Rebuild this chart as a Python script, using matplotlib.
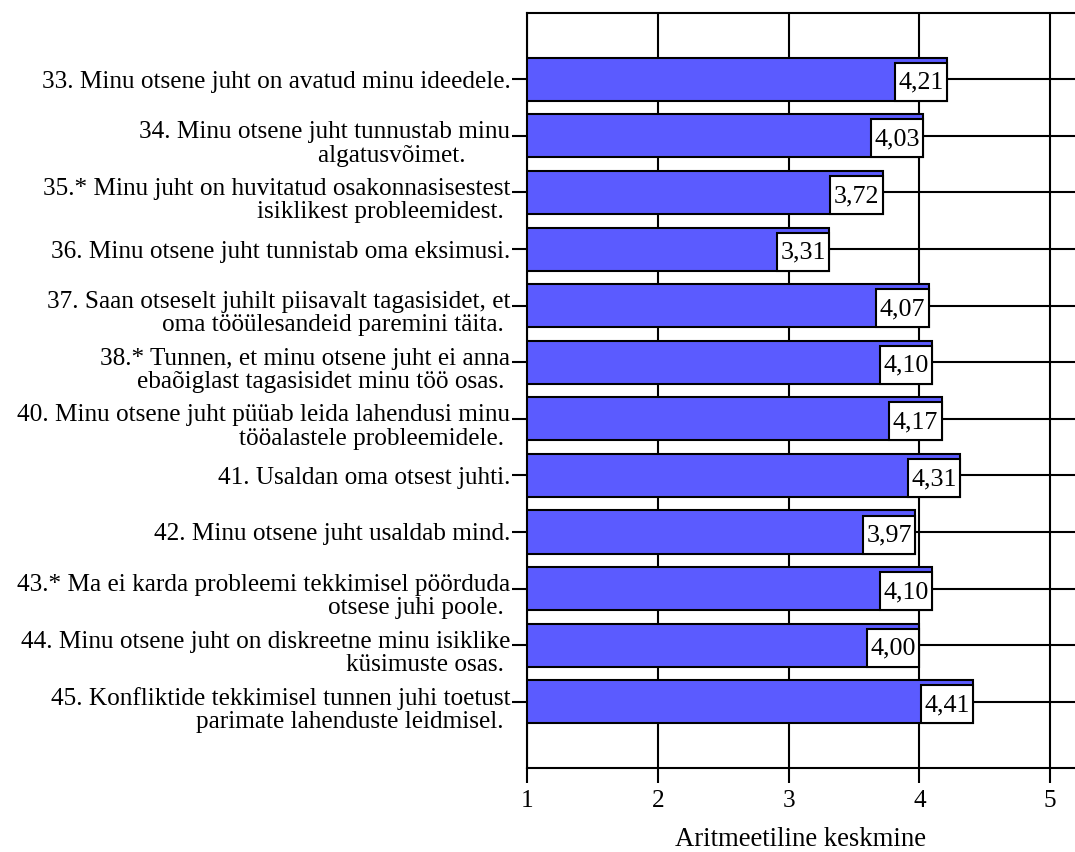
import matplotlib
matplotlib.use("Agg")
import matplotlib.pyplot as plt
from matplotlib.patches import Rectangle
from matplotlib.transforms import ScaledTranslation

plt.rcParams['font.family'] = ['Liberation Serif', 'DejaVu Serif']

NB = "\u00a0"
labels = [
    "33. Minu otsene juht on avatud minu ideedele.",
    "34. Minu otsene juht tunnustab minu\nalgatusvõimet." + NB * 7,
    "35.* Minu juht on huvitatud osakonnasisestest\nisiklikest probleemidest." + NB,
    "36. Minu otsene juht tunnistab oma eksimusi.",
    "37. Saan otseselt juhilt piisavalt tagasisidet, et\noma tööülesandeid paremini täita." + NB,
    "38.* Tunnen, et minu otsene juht ei anna\nebaõiglast tagasisidet minu töö osas." + NB,
    "40. Minu otsene juht püüab leida lahendusi minu\ntööalastele probleemidele." + NB,
    "41. Usaldan oma otsest juhti.",
    "42. Minu otsene juht usaldab mind.",
    "43.* Ma ei karda probleemi tekkimisel pöörduda\notsese juhi poole." + NB,
    "44. Minu otsene juht on diskreetne minu isiklike\nküsimuste osas." + NB,
    "45. Konfliktide tekkimisel tunnen juhi toetust\nparimate lahenduste leidmisel." + NB,
]
values = [4.21, 4.03, 3.72, 3.31, 4.07, 4.10, 4.17, 4.31, 3.97, 4.10, 4.00, 4.41]
value_texts = ["4,21", "4,03", "3,72", "3,31", "4,07", "4,10", "4,17", "4,31", "3,97", "4,10", "4,00", "4,41"]
xticks = [1, 2, 3, 4, 5]
xlabel = "Aritmeetiline keskmine"

fig = plt.figure(figsize=(10.75, 8.52), dpi=100)
ax = fig.add_axes([0.4902, 0.0986, 0.5098, 0.8861])

FS = 18.2
BAR_H = 0.76
ypos = list(range(len(values)))
ax.barh(ypos, [v - 1 for v in values], left=1, height=BAR_H, color='#5b5bff',
        edgecolor='black', linewidth=1.5, zorder=3)

BOX_W, BOX_H = 0.40, 0.67
for y, v, t in zip(ypos, values, value_texts):
    bottom = y + BAR_H / 2
    ax.add_patch(Rectangle((v - BOX_W, bottom - BOX_H), BOX_W, BOX_H,
                           facecolor='white', edgecolor='black', linewidth=1.5, zorder=4))
    ax.text(v - BOX_W / 2, bottom - BOX_H / 2 + 0.02, t, ha='center', va='center',
            fontsize=FS + 0.5, zorder=5)

ax.set_xlim(1, 5.19)
ax.set_ylim(len(values) - 1 + 1.17, -1.17)
ax.set_yticks(ypos)
ax.set_yticklabels(labels, fontsize=FS, linespacing=1.08)
ax.set_xticks(xticks)
ax.set_xticklabels([str(x) for x in xticks], fontsize=FS)
ax.set_xlabel(xlabel, fontsize=FS + 1, labelpad=11)

ax.tick_params(axis='y', length=11, width=1.5, pad=1, direction='out')
ax.tick_params(axis='x', length=11, width=1.5, pad=5, direction='out')

shift = ScaledTranslation(0, -5 / 100, fig.dpi_scale_trans)
for lab in ax.get_yticklabels():
    if "\n" in lab.get_text():
        lab.set_transform(lab.get_transform() + shift)

ax.grid(True, axis='both', color='black', linewidth=1.5, zorder=0)
ax.set_axisbelow(True)
for s in ['left', 'top', 'bottom']:
    ax.spines[s].set_linewidth(1.5)
ax.spines['right'].set_visible(False)

fig.savefig("out.png", dpi=100)
